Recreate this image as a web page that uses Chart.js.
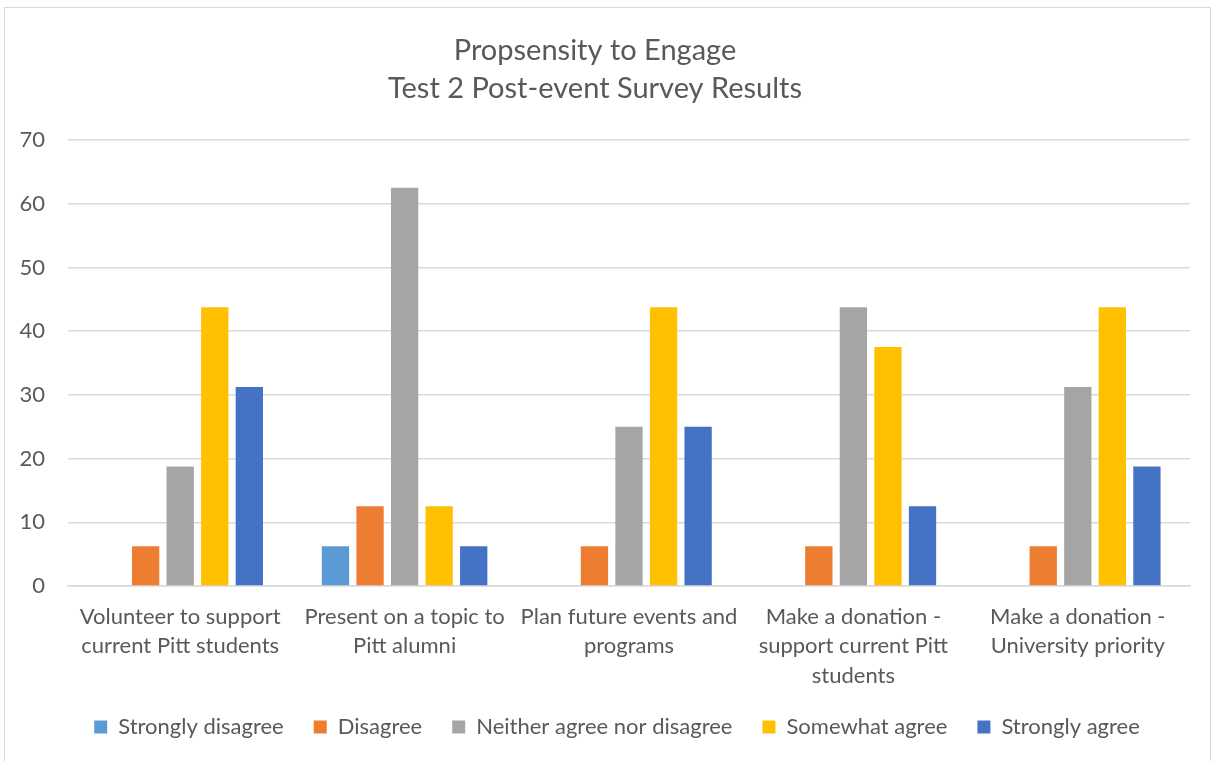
<!DOCTYPE html>
<html>
<head>
<meta charset="utf-8">
<script src="https://cdn.jsdelivr.net/npm/chart.js@4/dist/chart.umd.min.js"></script>
<style>
    html, body { margin: 0; padding: 0; background: #ffffff; }
    #frame {
        position: absolute; left: 4px; top: 7px;
        width: 1207px; height: 760px;
        border: 1px solid #d9d9d9; box-sizing: border-box;
    }
    #wrap { position: absolute; left: 0; top: 0; width: 1215px; height: 761px; }
</style>
</head>
<body>
<div id="frame"></div>
<div id="wrap"><canvas id="engageChart" width="1215" height="761"></canvas></div>
<script>
// Survey categories (multi-line labels)
const categories = [
    ['Volunteer to support', 'current Pitt students'],
    ['Present on a topic to', 'Pitt alumni'],
    ['Plan future events and', 'programs'],
    ['Make a donation -', 'support current Pitt', 'students'],
    ['Make a donation -', 'University priority']
];

// Percent of respondents per answer
const stronglyDisagree = [0, 6.25, 0, 0, 0];
const disagree = [6.25, 12.5, 6.25, 6.25, 6.25];
const neither = [18.75, 62.5, 25, 43.75, 31.25];
const somewhatAgree = [43.75, 12.5, 43.75, 37.5, 43.75];
const stronglyAgree = [31.25, 6.25, 25, 12.5, 18.75];

const yTicks = [0, 10, 20, 30, 40, 50, 60, 70];

const textColor = '#595959';
const gridColor = '#d9d9d9';
const fontFamily = 'Lato, "Open Sans", sans-serif';

function makeSet(label, data, color) {
    return {
        label: label,
        data: data,
        backgroundColor: color,
        borderWidth: 0,
        categoryPercentage: 0.77,
        barPercentage: 0.79
    };
}

// Nudge the legend row to the right so it sits under the plot area
const legendShift = {
    id: 'legendShift',
    afterLayout: function(chart) {
        if (chart.legend) {
            chart.legend.left += 22;
            chart.legend.right += 22;
        }
    }
};

const ctx = document.getElementById('engageChart');
new Chart(ctx, {
    type: 'bar',
    data: {
        labels: categories,
        datasets: [
            makeSet('Strongly disagree', stronglyDisagree, '#5b9bd5'),
            makeSet('Disagree', disagree, '#ed7d31'),
            makeSet('Neither agree nor disagree', neither, '#a5a5a5'),
            makeSet('Somewhat agree', somewhatAgree, '#ffc000'),
            makeSet('Strongly agree', stronglyAgree, '#4472c4')
        ]
    },
    plugins: [legendShift],
    options: {
        responsive: false,
        animation: false,
        devicePixelRatio: 1,
        layout: {
            padding: { left: 0, right: 25, top: 0, bottom: 13 }
        },
        plugins: {
            title: {
                display: true,
                text: ['Propsensity to Engage', 'Test 2 Post-event Survey Results'],
                color: textColor,
                font: { family: fontFamily, size: 29, weight: 'normal', lineHeight: 1.31 },
                padding: { top: 32, bottom: 32 }
            },
            legend: {
                display: true,
                position: 'bottom',
                labels: {
                    color: textColor,
                    font: { family: fontFamily, size: 22 },
                    boxWidth: 13,
                    boxHeight: 13,
                    padding: 30
                }
            },
            tooltip: { enabled: false }
        },
        scales: {
            x: {
                grid: { display: false, drawTicks: false },
                border: { display: true, color: gridColor, width: 1.5 },
                ticks: {
                    color: textColor,
                    font: { family: fontFamily, size: 22, lineHeight: 1.34 },
                    padding: 16,
                    maxRotation: 0,
                    autoSkip: false
                },
                afterFit: function(scale) {
                    scale.height = 100;
                }
            },
            y: {
                min: 0,
                max: 70,
                afterBuildTicks: function(scale) {
                    scale.ticks = yTicks.map(v => ({ value: v }));
                },
                grid: { color: gridColor, lineWidth: 1.5, drawTicks: false },
                border: { display: false },
                ticks: {
                    color: textColor,
                    font: { family: fontFamily, size: 22 },
                    padding: 23
                },
                afterFit: function(scale) {
                    scale.width = 68;
                }
            }
        }
    }
});
</script>
</body>
</html>
